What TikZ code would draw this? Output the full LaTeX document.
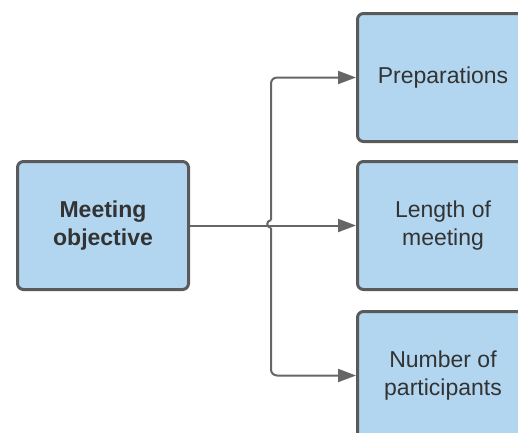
\documentclass[tikz,border=0pt]{standalone}
\usepackage{fontspec}
\setmainfont{Liberation Sans}
\usetikzlibrary{arrows.meta}
\definecolor{boxfill}{HTML}{B2D6F0}
\definecolor{boxline}{HTML}{5A5A5A}
\definecolor{wire}{HTML}{666666}
\definecolor{ink}{HTML}{333333}
\tikzset{
  topic/.style={draw=boxline, line width=3pt, fill=boxfill, rounded corners=6pt,
    minimum width=171pt, minimum height=128pt, inner sep=0pt, text=ink,
    align=center, font=\fontsize{23pt}{28pt}\selectfont, anchor=north west},
  conn/.style={draw=wire, line width=2pt, rounded corners=6pt},
  tip/.style={-{Triangle[length=18pt,width=13pt]}}
}
\begin{document}
\begin{tikzpicture}[x=1pt,y=-1pt]
\useasboundingbox (0,0) rectangle (518,432);
\begin{scope}
\clip (0,0) rectangle (518,432);
% source box and the three topics
\node[topic, font=\fontsize{23pt}{28pt}\selectfont\bfseries] (src) at (16,160) {Meeting\\objective};
\node[topic] (b1) at (356,12) {Preparations};
\node[topic] (b2) at (356,160) {Length of\\meeting};
\node[topic] (b3) at (356,310) {Number of\\participants};
% branch points on the trunk
\coordinate (hopT) at (271,220);
\coordinate (hopB) at (271,228);
% connectors
\draw[conn, tip] (src.east) -- (b2.west);
\draw[conn, tip] (hopT) |- (b1.west);
\draw[conn, tip] (hopB) |- (b3.west);
% small line hop where the trunk crosses
\draw[draw=wire, line width=2pt] (hopT) .. controls (266,221) and (266,227) .. (hopB);
\end{scope}
\end{tikzpicture}
\end{document}
